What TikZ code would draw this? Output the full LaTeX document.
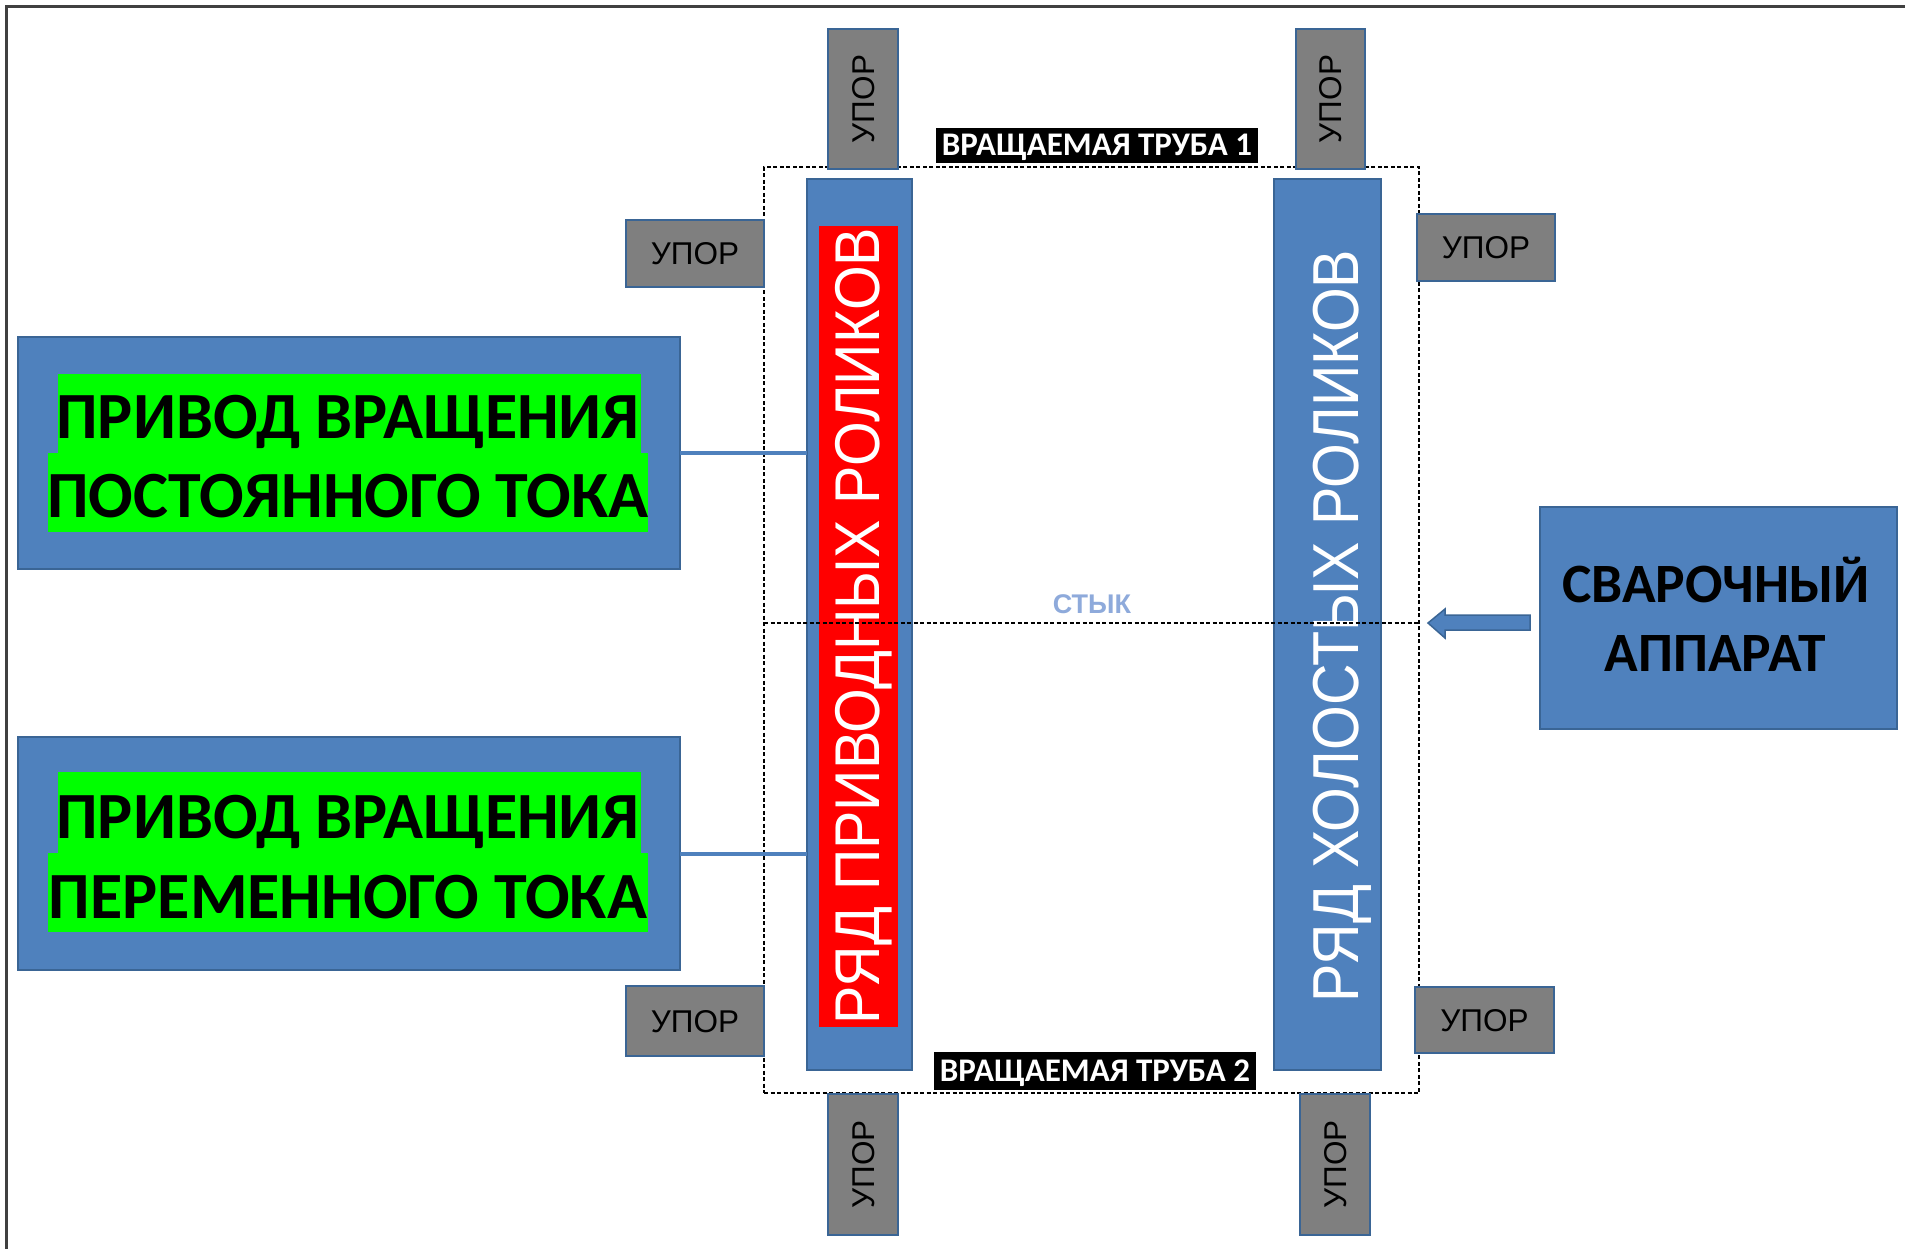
\documentclass[tikz,border=0pt]{standalone}
\usepackage{fontspec}
\setmainfont{Liberation Sans}
\newfontfamily\calfont{Carlito}
\definecolor{bl}{HTML}{4F81BD}
\definecolor{bld}{HTML}{3A6595}
\definecolor{gry}{HTML}{7F7F7F}
\definecolor{grn}{HTML}{00FF00}
\definecolor{stk}{HTML}{8EAADB}
\begin{document}
\begin{tikzpicture}[x=1pt,y=-1pt,
  blbox/.style={draw=bld, line width=2pt, fill=bl, inner sep=0pt, outer sep=0pt, anchor=north west},
  uporbox/.style={draw=bld, line width=2pt, fill=gry, inner sep=0pt, outer sep=0pt, anchor=north west},
  uportxt/.style={font=\fontsize{31.5}{36}\selectfont, text=black, inner sep=0pt, text height=22.5pt, text depth=0pt},
  drvtxt/.style={font=\calfont\bfseries\fontsize{66}{76}\selectfont, text=black, inner sep=0pt, anchor=base},
  weldtxt/.style={font=\calfont\bfseries\fontsize{55.5}{64}\selectfont, text=black, inner sep=0pt, anchor=base},
  coltxt/.style={font=\fontsize{57.5}{66}\selectfont, text=white, inner sep=0pt, anchor=base, rotate=90},
  pipelbl/.style={fill=black, text=white, font=\calfont\bfseries\fontsize{33}{38}\selectfont, inner sep=0pt, text height=21pt, text depth=0pt},
  dsh/.style={draw=black, line width=1.5pt, dash pattern=on 4pt off 2.5pt},
  conn/.style={draw=bl, line width=4pt}
]
\useasboundingbox (0,0) rectangle (1905,1249);
\fill[white] (0,0) rectangle (1905,1249);
% outer frame
\draw[line width=3pt, black!75] (6,1249) -- (6,7) -- (1905,7);

% columns
\node[blbox, minimum width=105pt, minimum height=891pt] (lcol) at (807,179) {};
\node[anchor=north west, fill=red, inner sep=0pt, minimum width=79pt, minimum height=801pt] (red) at (819,226) {};
\node[coltxt] (ltxt) at (879,626) {\scalebox{1}[1.1]{РЯД ПРИВОДНЫХ РОЛИКОВ}};
\node[blbox, minimum width=107pt, minimum height=891pt] (rcol) at (1274,179) {};
\node[coltxt] (rtxt) at (1358,626) {\scalebox{1}[1.13]{РЯД ХОЛОСТЫХ РОЛИКОВ}};

% pipe outline and joint
\node[dsh, anchor=north west, inner sep=0pt, outer sep=0pt, minimum width=655pt, minimum height=926pt] (pipe) at (764,167) {};
\coordinate (j) at (1092,623);
\draw[dsh] (pipe.west |- j) -- (pipe.east |- j);
\node[text=stk, font=\bfseries\fontsize{27}{30}\selectfont, inner sep=0pt, anchor=base] (styk) at (1092,613) {СТЫК};

% stops
\node[uporbox, minimum width=70pt, minimum height=140pt] (u1) at (828,29) {};
\node[uportxt, rotate=90] at (u1.center) {УПОР};
\node[uporbox, minimum width=69pt, minimum height=140pt] (u2) at (1296,29) {};
\node[uportxt, rotate=90] at (u2.center) {УПОР};
\node[uporbox, minimum width=138pt, minimum height=67pt] (u3) at (626,220) {};
\node[uportxt] at (u3.center) {УПОР};
\node[uporbox, minimum width=138pt, minimum height=67pt] (u4) at (1417,214) {};
\node[uportxt] at (u4.center) {УПОР};
\node[uporbox, minimum width=138pt, minimum height=70pt] (u5) at (626,986) {};
\node[uportxt] at (u5.center) {УПОР};
\node[uporbox, minimum width=139pt, minimum height=66pt] (u6) at (1415,987) {};
\node[uportxt] at (u6.center) {УПОР};
\node[uporbox, minimum width=70pt, minimum height=141pt] (u7) at (828,1094) {};
\node[uportxt, rotate=90] at (u7.center) {УПОР};
\node[uporbox, minimum width=70pt, minimum height=141pt] (u8) at (1300,1094) {};
\node[uportxt, rotate=90] at (u8.center) {УПОР};

% pipe labels
\node[pipelbl, minimum width=322pt, minimum height=35pt] (p1) at (1097,145.5) {ВРАЩАЕМАЯ ТРУБА 1};
\node[pipelbl, minimum width=322pt, minimum height=38pt] (p2) at (1095,1071) {ВРАЩАЕМАЯ ТРУБА 2};

% drive boxes
\node[blbox, minimum width=662pt, minimum height=232pt] (dc) at (18,337) {};
\fill[grn] (58,374) rectangle (641,453);
\fill[grn] (48,453) rectangle (648,532);
\node[drvtxt] at (348,438) {ПРИВОД ВРАЩЕНИЯ};
\node[drvtxt] at (348,517) {ПОСТОЯННОГО ТОКА};

\node[blbox, minimum width=662pt, minimum height=233pt] (ac) at (18,737) {};
\fill[grn] (58,772) rectangle (641,853);
\fill[grn] (48,853) rectangle (648,932);
\node[drvtxt] at (348,838) {ПРИВОД ВРАЩЕНИЯ};
\node[drvtxt] at (348,918) {ПЕРЕМЕННОГО ТОКА};

\draw[conn] (dc.east) -- (dc.east -| lcol.west);
\draw[conn] (ac.east) -- (ac.east -| lcol.west);

% welding machine
\node[blbox, minimum width=357pt, minimum height=222pt] (weld) at (1540,507) {};
\node[weldtxt] at (1716,602) {СВАРОЧНЫЙ};
\node[weldtxt] at (1715,671) {АППАРАТ};

% block arrow from welding machine to the joint
\coordinate (atip) at (pipe.east |- j);
\filldraw[draw=bld, line width=1.5pt, fill=bl, line join=miter]
  ([xshift=9pt]atip) -- ++(17,-14) -- ++(0,6) -- ++(85,0) -- ++(0,15) -- ++(-85,0) -- ++(0,8) -- cycle;
\end{tikzpicture}
\end{document}
